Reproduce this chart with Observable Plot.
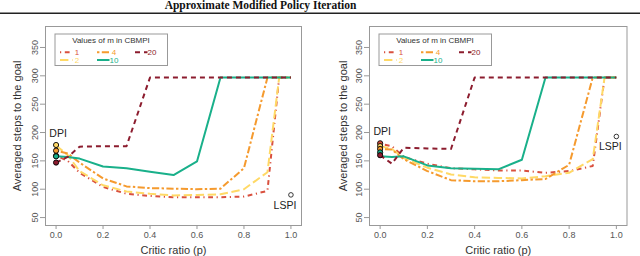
<!DOCTYPE html>
<html><head><meta charset="utf-8">
<script src="https://cdn.jsdelivr.net/npm/d3@7"></script>
<script src="https://cdn.jsdelivr.net/npm/@observablehq/plot@0.6"></script>
<style>
body{margin:0;background:#fff;width:640px;height:256px;overflow:hidden;font-family:"Liberation Sans",Arial,sans-serif}
#row{display:flex;width:640px}
svg{display:block}
</style></head>
<body>
<svg id="title" width="640" height="14"></svg>
<div id="row"></div>
<script>
const titleText = "Approximate Modified Policy Iteration";
const P = [0, 0.05, 0.1, 0.2, 0.3, 0.4, 0.5, 0.6, 0.7, 0.8, 0.9, 0.95, 1.0];
const mValues = ["1", "2", "4", "10", "20"];
const colors = ["#D9503E", "#FFD966", "#F59A2E", "#19B08A", "#8C1C2E"];
const dashes = ["1.2,3.6,4.8,3.6", "8.4,3.6", "2.4,2.4,7.2,2.4", "none", "5,4"];
const xTicks = [0, 0.2, 0.4, 0.6, 0.8, 1.0];
const yTicks = [50, 100, 150, 200, 250, 300, 350];

// left panel
const leftM1  = [159, 150, 129, 104, 92, 88, 86, 86, 86, 87, 97, 297, 297];
const leftM2  = [177, 160, 132, 107, 96, 92, 89, 90, 91, 100, 130, 297, 297];
const leftM4  = [168, 163, 147, 119, 105, 102, 101, 100, 101, 137, 297, 297, 297];
const leftM10 = [158, 157, 154, 140, 137, 131, 125, 149, 297, 297, 297, 297, 297];
const leftM20 = [147, 157, 175, 176, 176, 297, 297, 297, 297, 297, 297, 297, 297];
const leftDPI = [159, 178, 168, 158, 147];
const leftLSPI = 90;

// right panel
const rightM1  = [180, 176, 157, 145, 137, 135, 133, 133, 129, 132, 141, 297, 297];
const rightM2  = [176, 171, 155, 138, 126, 121, 120, 119, 123, 129, 153, 297, 297];
const rightM4  = [171, 170, 153, 132, 116, 114, 114, 116, 118, 143, 297, 297, 297];
const rightM10 = [158, 157, 158, 142, 137, 136, 135, 152, 297, 297, 297, 297, 297];
const rightM20 = [160, 145, 173, 172, 171, 297, 297, 297, 297, 297, 297, 297, 297];
const rightDPI = [181, 176, 171, 165, 160];
const rightLSPI = 193;

// title
{
  const t = d3.select("#title");
  t.append("text").attr("x", 260.5).attr("y", 8.6).attr("text-anchor", "middle")
    .attr("font-family", "'Liberation Serif', serif").attr("font-weight", "bold")
    .attr("font-size", 11.5).attr("fill", "#111").text(titleText);
  t.append("line").attr("x1", 0).attr("x2", 640).attr("y1", 13.2).attr("y2", 13.2)
    .attr("stroke", "#222").attr("stroke-width", 1.5);
}

function panel(series, dpi, lspi, ml, mr, ylabDx) {
  const mt = 12, mb = 31, W = 320, H = 242;
  const marks = [Plot.frame({stroke: "#999"}),
    Plot.axisY({ticks: yTicks, tickSize: 5, tickRotate: -90, tickPadding: 3, stroke: "#999", fill: "#555", fontSize: 9, label: null}),
    Plot.axisX({ticks: xTicks, tickSize: 4, tickPadding: 2, tickFormat: d3.format(".1f"), stroke: "#999", fill: "#555", fontSize: 9, label: null}),
    Plot.text(["Averaged steps to the goal"], {frameAnchor: "left", textAnchor: "middle", lineAnchor: "middle", rotate: -90, dx: ylabDx, fontSize: 11, fill: "#333"}),
    Plot.text(["Critic ratio (p)"], {frameAnchor: "bottom", textAnchor: "middle", lineAnchor: "middle", dy: 25, fontSize: 11, fill: "#333"})
  ];
  series.forEach((vals, i) => {
    const rows = vals.map((v, j) => ({p: P[j], v}));
    marks.push(Plot.line(rows, {x: "p", y: "v", stroke: colors[i], strokeWidth: 2,
      strokeDasharray: dashes[i], strokeLinecap: "butt", strokeLinejoin: "round"}));
  });
  const dpiRows = dpi.map((v, i) => ({p: 0, v, c: colors[i]}));
  marks.push(Plot.dot(dpiRows, {x: "p", y: "v", r: 2.6, fill: "c", stroke: "#000", strokeWidth: 0.9}));
  const topDPI = d3.max(dpi);
  marks.push(Plot.text([{p: 0, v: topDPI}], {x: "p", y: "v", text: () => "DPI", dy: -11.5, dx: 2, fontSize: 10.5, fill: "#222"}));
  marks.push(Plot.dot([{p: 1, v: lspi}], {x: "p", y: "v", r: 2.3, fill: "none", stroke: "#222", strokeWidth: 0.9}));
  marks.push(Plot.text([{p: 1, v: lspi}], {x: "p", y: "v", text: () => "LSPI", dx: -6, dy: 10.5, fontSize: 10.5, fill: "#222"}));

  const chart = Plot.plot({
    width: W, height: H, marginTop: mt, marginBottom: mb, marginLeft: ml, marginRight: mr,
    x: {domain: [-0.045, 1.045]},
    y: {domain: [36, 387]},
    style: {fontFamily: "'Liberation Sans', Arial, sans-serif", fontSize: "9px", background: "#fff"},
    marks
  });

  // legend
  const svg = d3.select(chart);
  const g = svg.append("g").attr("transform", `translate(${ml + 10},20)`);
  g.append("rect").attr("width", 112.5).attr("height", 31.5).attr("fill", "#fff").attr("stroke", "#999").attr("stroke-width", 1);
  g.append("text").attr("x", 56).attr("y", 8.8).attr("text-anchor", "middle")
    .attr("font-size", 8).attr("fill", "#333").text("Values of m in CBMPI");
  const colX = [5, 42, 80];
  const rowY = [18.3, 26];
  mValues.forEach((m, i) => {
    // m=1 col0 row0, m=2 col0 row1, m=4 col1 row0, m=10 col1 row1, m=20 col2 row0
    const c = [0, 0, 1, 1, 2][i], r = [0, 1, 0, 1, 0][i];
    g.append("line").attr("x1", colX[c]).attr("x2", colX[c] + 12.5)
      .attr("y1", rowY[r]).attr("y2", rowY[r]).attr("stroke", colors[i]).attr("stroke-width", 2)
      .attr("stroke-dasharray", dashes[i]).attr("stroke-linecap", "butt");
    g.append("text").attr("x", colX[c] + 17).attr("y", rowY[r]).attr("dy", "0.35em")
      .attr("font-size", 8).attr("fill", colors[i]).text(m);
  });
  return chart;
}

const row = document.getElementById("row");
row.appendChild(panel([leftM1, leftM2, leftM4, leftM10, leftM20], leftDPI, leftLSPI, 45, 19, -28));
row.appendChild(panel([rightM1, rightM2, rightM4, rightM10, rightM20], rightDPI, rightLSPI, 49, 13.5, -26));
</script>
</body></html>
